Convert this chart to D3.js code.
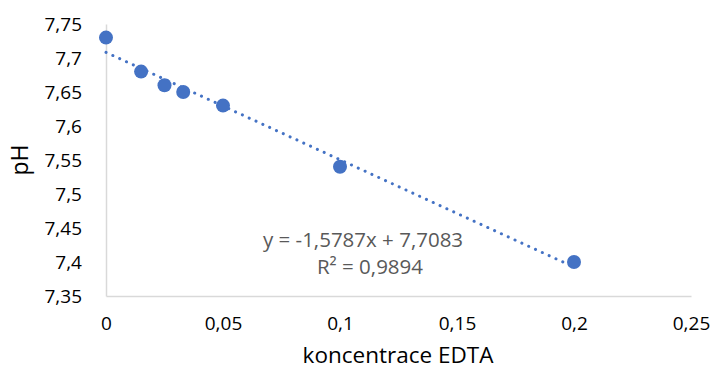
<!DOCTYPE html>
<html><head><meta charset="utf-8">
<script src="https://cdn.jsdelivr.net/npm/d3@7"></script>
<style>body{margin:0;background:#fff}svg{display:block}</style>
</head><body>
<script>
const xValues = [0, 0.015, 0.025, 0.033, 0.05, 0.1, 0.2];
const yValues = [7.73, 7.68, 7.66, 7.65, 7.63, 7.54, 7.40];
const xTicks = [0, 0.05, 0.1, 0.15, 0.2, 0.25];
const yTicks = [7.35, 7.4, 7.45, 7.5, 7.55, 7.6, 7.65, 7.7, 7.75];
const slope = -1.5787, intercept = 7.7083, r2 = 0.9894;
const eqText = "y = -1,5787x + 7,7083";
const r2Text = "R² = 0,9894";
const xTitle = "koncentrace EDTA";
const yTitle = "pH";

const W = 713, H = 369;
const fmt = d => String(d).replace(".", ",");
const font = "'Open Sans', sans-serif";
const svg = d3.select("body").append("svg").attr("width", W).attr("height", H);
const x = d3.scaleLinear().domain([0, 0.25]).range([106, 691]);
const y = d3.scaleLinear().domain([7.35, 7.75]).range([296, 24]);

// axes
const xAxis = svg.append("g").attr("transform", `translate(0,${y(7.35)})`)
  .call(d3.axisBottom(x).tickValues(xTicks).tickFormat(fmt).tickSize(0).tickPadding(21));
const yAxis = svg.append("g").attr("transform", `translate(${x(0)},0)`)
  .call(d3.axisLeft(y).tickValues(yTicks).tickFormat(fmt).tickSize(0).tickPadding(24));
[xAxis, yAxis].forEach(g => {
  g.select(".domain").attr("stroke", "#d9d9d9").attr("stroke-width", 1.5);
  g.selectAll("text").attr("font-family", font).attr("font-size", 19).attr("fill", "#000");
});

// trendline
const tl = d3.line().x(d => x(d)).y(d => y(slope * d + intercept));
svg.append("path").datum([0, 0.2]).attr("d", tl)
  .attr("fill", "none").attr("stroke", "#4472C4").attr("stroke-width", 3)
  .attr("stroke-linecap", "round").attr("stroke-dasharray", "0.1 7.4");

// points
svg.selectAll("circle.pt").data(xValues.map((v, i) => [v, yValues[i]])).enter()
  .append("circle").attr("class", "pt")
  .attr("cx", d => x(d[0])).attr("cy", d => y(d[1])).attr("r", 7)
  .attr("fill", "#4472C4");

// equation label
svg.append("text").attr("x", 363).attr("y", 247).attr("text-anchor", "middle")
  .attr("font-family", font).attr("font-size", 20.5).attr("fill", "#595959").text(eqText);
svg.append("text").attr("x", 370).attr("y", 274).attr("text-anchor", "middle")
  .attr("font-family", font).attr("font-size", 20.5).attr("fill", "#595959").text(r2Text);

// titles
svg.append("text").attr("x", 398).attr("y", 363).attr("text-anchor", "middle")
  .attr("font-family", font).attr("font-size", 22.5).attr("fill", "#000").text(xTitle);
svg.append("text").attr("transform", "translate(28,160) rotate(-90)").attr("text-anchor", "middle")
  .attr("font-family", font).attr("font-size", 23).attr("fill", "#000").text(yTitle);
</script>
</body></html>
